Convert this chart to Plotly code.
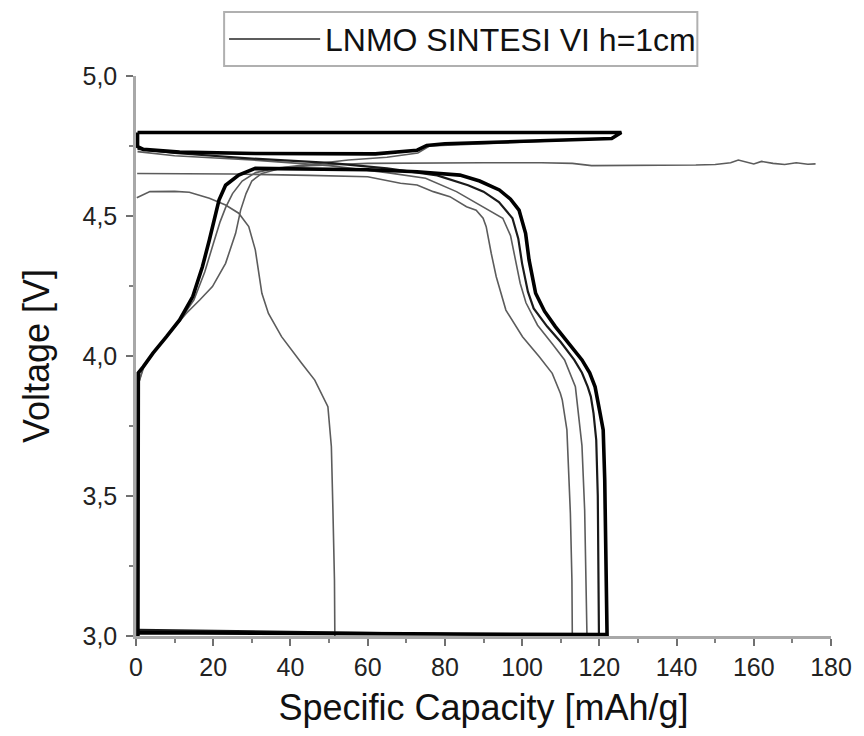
import plotly.graph_objects as go

# ---------------- data (capacity mAh/g, voltage V) ----------------
# thick black cycle: charge rise -> plateau -> discharge -> return along 3.0 V
thick_cap = [0.5, 0.5, 0.6, 1.9, 4.4, 7.9, 11.3, 14.7, 17.2, 19.0, 20.7, 21.5, 23.2, 26.6, 30.9,
             40, 50, 60, 72.8, 83.9, 89, 94.1, 97, 99.2, 100.9, 101.8, 103.5, 105.8, 108.6, 112,
             115.5, 117.5, 118.9, 120.2, 121.0, 121.4, 121.8, 122.0, 0.5]
thick_volt = [3.0, 3.77, 3.94, 3.962, 4.01, 4.069, 4.129, 4.212, 4.319, 4.414, 4.51, 4.557, 4.61, 4.646, 4.67,
              4.668, 4.666, 4.665, 4.658, 4.646, 4.625, 4.593, 4.56, 4.521, 4.438, 4.343, 4.224, 4.16, 4.105, 4.045,
              3.986, 3.94, 3.89, 3.795, 3.736, 3.557, 3.2, 3.005, 3.012]

# thick black loop at the top (charge end at 4.8 V)
loop_cap = [0.4, 125.7, 123.2, 100, 80, 75.3, 72.8, 62, 45, 30.9, 11.3, 1.9, 0.4, 0.4]
loop_volt = [4.798, 4.798, 4.777, 4.766, 4.758, 4.752, 4.735, 4.722, 4.722, 4.723, 4.728, 4.738, 4.748, 4.798]

# grey charge close to the thick one
chgB_cap = [0.6, 2, 4.4, 8, 11.5, 15, 17.8, 20, 21.8, 23.2, 25, 27.5, 31, 36, 45, 55, 65, 73, 76, 100, 123, 125.5]
chgB_volt = [3.9, 3.96, 4.01, 4.069, 4.129, 4.2, 4.3, 4.4, 4.48, 4.53, 4.58, 4.625, 4.655, 4.67, 4.685, 4.70,
             4.71, 4.725, 4.75, 4.765, 4.777, 4.795]

# grey charge that continues as the long noisy plateau up to ~176 mAh/g
chgA_cap = [0.5, 0.6, 1.9, 4.4, 7.9, 11, 13, 16.5, 19.8, 23.2, 25.8, 27.1, 28.5, 30, 32.6, 38, 45, 60, 75, 90,
            105, 113, 118, 125, 135, 145, 150, 154, 156, 158, 160, 162, 165, 168, 171, 174, 176]
chgA_volt = [3.0, 3.9, 3.962, 4.01, 4.069, 4.12, 4.152, 4.2, 4.248, 4.331, 4.438, 4.521, 4.58, 4.625, 4.652,
             4.672, 4.68, 4.688, 4.69, 4.69, 4.69, 4.688, 4.68, 4.68, 4.68, 4.682, 4.684, 4.69, 4.7, 4.692,
             4.686, 4.695, 4.688, 4.684, 4.69, 4.685, 4.686]

# short grey discharge (~51 mAh/g)
short_cap = [0.2, 3.6, 10, 13.8, 19, 23.2, 26.6, 29.2, 30.9, 32.6, 34.3, 37.7, 42.9, 46.3, 49.7, 50.6, 51.0, 51.4, 51.5]
short_volt = [4.565, 4.587, 4.588, 4.585, 4.563, 4.539, 4.51, 4.462, 4.379, 4.224, 4.152, 4.069, 3.974, 3.914,
              3.819, 3.676, 3.45, 3.2, 3.0]

# discharge ending ~120 mAh/g (dark)
dis2_cap = [0.4, 10, 30, 50, 65, 78, 86, 90, 94, 97.5, 99, 100, 101.5, 103, 106.5, 110, 113.5, 115.5, 117,
            117.8, 118.5, 119.2, 119.6, 119.8, 119.9, 0.4]
dis2_volt = [4.74, 4.725, 4.705, 4.69, 4.67, 4.645, 4.61, 4.587, 4.55, 4.492, 4.42, 4.33, 4.23, 4.17, 4.105,
             4.05, 3.986, 3.94, 3.89, 3.855, 3.795, 3.7, 3.5, 3.2, 3.0, 3.022]

# discharge ending ~117 mAh/g (grey)
dis3_cap = [0.4, 10, 30, 50, 65, 75, 83, 89, 95, 97, 98.2, 99.5, 101, 104, 108, 111, 113.8, 114.6, 115.5,
            116.2, 116.6, 116.8]
dis3_volt = [4.73, 4.715, 4.70, 4.68, 4.655, 4.635, 4.587, 4.54, 4.492, 4.43, 4.343, 4.26, 4.19, 4.11, 4.04,
             3.986, 3.89, 3.795, 3.68, 3.45, 3.2, 3.0]

# discharge ending ~113 mAh/g (grey)
dis4_cap = [0.3, 25, 45, 60, 68.5, 72.8, 77, 81.3, 85.6, 88.1, 89.9, 90.7, 92, 93.3, 95.8, 100.1, 104.4,
            107.8, 109.9, 110.4, 111.6, 112.5, 112.9, 113]
dis4_volt = [4.652, 4.65, 4.645, 4.64, 4.617, 4.611, 4.587, 4.569, 4.533, 4.521, 4.492, 4.462, 4.367, 4.283,
             4.164, 4.069, 3.998, 3.938, 3.867, 3.843, 3.736, 3.438, 3.2, 3.0]

legend_label = "LNMO SINTESI VI h=1cm"
x_ticks = [0, 20, 40, 60, 80, 100, 120, 140, 160, 180]
y_ticks = [3.0, 3.5, 4.0, 4.5, 5.0]

GREY = "#5c5c5c"
fig = go.Figure()

def add(xs, ys, color, width):
    fig.add_trace(go.Scatter(x=xs, y=ys, mode="lines", line=dict(color=color, width=width),
                             showlegend=False, hoverinfo="skip"))

add(dis4_cap, dis4_volt, GREY, 1.6)
add(dis3_cap, dis3_volt, GREY, 1.6)
add(short_cap, short_volt, GREY, 1.6)
add(chgA_cap, chgA_volt, GREY, 1.6)
add(chgB_cap, chgB_volt, GREY, 1.6)
add(dis2_cap, dis2_volt, "#1a1a1a", 2.2)
add(thick_cap, thick_volt, "#000000", 3.6)
add(loop_cap, loop_volt, "#000000", 3.6)

# ---- legend drawn as a framed box above the plot ----
L, R, T, B = 136, 838, 76, 636
W, H = R - L, B - T
def px(xp):
    return (xp - L) / W
def py(yp):
    return (B - yp) / H

fig.add_shape(type="rect", xref="paper", yref="paper", x0=px(225), x1=px(703), y0=py(66), y1=py(12),
              line=dict(color="#b0b0b0", width=2), fillcolor="white", layer="above")
fig.add_shape(type="line", xref="paper", yref="paper", x0=px(230), x1=px(322), y0=py(39), y1=py(39),
              line=dict(color=GREY, width=2))
fig.add_annotation(xref="paper", yref="paper", x=px(325), y=py(40), xanchor="left", yanchor="middle",
                   text=legend_label, showarrow=False,
                   font=dict(family="Liberation Sans, Arial, sans-serif", size=32, color="#111"))

fig.update_layout(
    width=864, height=736,
    margin=dict(l=L, r=864 - R, t=T, b=736 - B),
    paper_bgcolor="white", plot_bgcolor="white",
    separators=", ",
    font=dict(family="Liberation Sans, Arial, sans-serif", color="#222"),
    xaxis=dict(range=[0, 180], tickvals=x_ticks, showgrid=False, zeroline=False,
               showline=True, linecolor="#a8a8a8", linewidth=2.5,
               ticks="outside", ticklen=7, tickwidth=2, tickcolor="#707070",
               minor=dict(dtick=10, ticks="outside", ticklen=4, tickwidth=2, tickcolor="#808080"),
               tickfont=dict(size=25, color="#222"),
               title=dict(text="Specific Capacity [mAh/g]", font=dict(size=36, color="#111"), standoff=16)),
    yaxis=dict(range=[3, 5], tickvals=y_ticks, tickformat=".1f", showgrid=False, zeroline=False,
               showline=True, linecolor="#a8a8a8", linewidth=2.5,
               ticks="outside", ticklen=7, tickwidth=2, tickcolor="#707070",
               minor=dict(dtick=0.25, ticks="outside", ticklen=4, tickwidth=2, tickcolor="#808080"),
               tickfont=dict(size=25, color="#222"), ticklabelstandoff=4,
               title=dict(text="Voltage [V]", font=dict(size=36, color="#111"), standoff=22)),
)

fig.write_html("out.html")
